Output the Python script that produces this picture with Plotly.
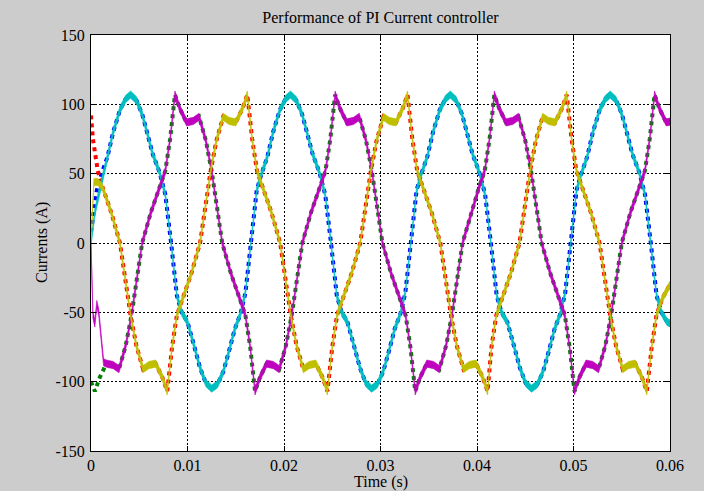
import plotly.graph_objects as go

# ---------------- data ----------------
# Phase A reference (red dotted) / measured (yellow)
t_ref_a = [0.0000, 0.0002, 0.0007, 0.0012, 0.0021, 0.0030, 0.0041, 0.0047, 0.0054, 0.0060, 0.0067, 0.0074, 0.0079,
           0.0084, 0.0089, 0.0095, 0.0104, 0.0113, 0.0124, 0.0130, 0.0137, 0.0143, 0.0150, 0.0157, 0.0162,
           0.0167, 0.0172, 0.0178, 0.0187, 0.0196, 0.0207, 0.0213, 0.0220, 0.0226, 0.0233, 0.0240, 0.0245,
           0.0250, 0.0255, 0.0261, 0.0270, 0.0279, 0.0290, 0.0296, 0.0303, 0.0309, 0.0316, 0.0323, 0.0328,
           0.0333, 0.0338, 0.0344, 0.0353, 0.0362, 0.0373, 0.0379, 0.0386, 0.0392, 0.0399, 0.0406, 0.0411,
           0.0415, 0.0420, 0.0426, 0.0435, 0.0444, 0.0455, 0.0461, 0.0468, 0.0474, 0.0481, 0.0488, 0.0493,
           0.0498, 0.0503, 0.0509, 0.0518, 0.0527, 0.0538, 0.0544, 0.0551, 0.0557, 0.0564, 0.0571, 0.0576,
           0.0581, 0.0586, 0.0592, 0.0600]
i_ref_a = [92, 75, 52, 40, 22, 0, -52, -74, -91, -88, -87, -97, -107,
           -75, -52, -40, -22, 0, 52, 74, 91, 88, 87, 97, 107,
           75, 52, 40, 22, 0, -52, -74, -91, -88, -87, -97, -107,
           -75, -52, -40, -22, 0, 52, 74, 91, 88, 87, 97, 107,
           75, 52, 40, 22, 0, -52, -74, -91, -88, -87, -97, -107,
           -75, -52, -40, -22, 0, 52, 74, 91, 88, 87, 97, 107,
           75, 52, 40, 22, 0, -52, -74, -91, -88, -87, -97, -107,
           -75, -52, -40, -30]

# Phase B reference (blue dotted) / measured (cyan)
t_ref_b = [0.0000, 0.0006, 0.0011, 0.0017, 0.0023, 0.0030, 0.0036, 0.0041, 0.0047, 0.0053, 0.0058, 0.0064, 0.0071, 0.0077,
           0.0083, 0.0089, 0.0094, 0.0100, 0.0106, 0.0113, 0.0119, 0.0125, 0.0131, 0.0137, 0.0143, 0.0149, 0.0155, 0.0160,
           0.01657, 0.01717, 0.01767, 0.01827, 0.01887, 0.01957, 0.02017, 0.02067, 0.02127, 0.02187, 0.02237, 0.02297,
           0.02367, 0.02427, 0.02487, 0.02547, 0.02597, 0.02657, 0.02717, 0.02787, 0.02847, 0.02907, 0.02967, 0.03027,
           0.03087, 0.03147, 0.03207, 0.03257,
           0.03314, 0.03374, 0.03424, 0.03484, 0.03544, 0.03614, 0.03674, 0.03724, 0.03784, 0.03844, 0.03894, 0.03954,
           0.04024, 0.04084, 0.04144, 0.04204, 0.04254, 0.04314, 0.04374, 0.04444, 0.04504, 0.04564, 0.04624, 0.04684,
           0.04744, 0.04804, 0.04864, 0.04914,
           0.04971, 0.05031, 0.05081, 0.05141, 0.05201, 0.05271, 0.05331, 0.05381, 0.05441, 0.05501, 0.05551, 0.05611,
           0.05681, 0.05741, 0.05801, 0.05861, 0.05911, 0.05971, 0.0600]
i_ref_b = [8, 38, 50, 62, 80, 96, 104, 107, 103, 93, 80, 64, 51, 35,
           0, -38, -50, -57, -72, -90, -101, -105, -102, -93, -78, -62, -51, -36,
           0, 38, 50, 62, 80, 96, 104, 107, 103, 93, 80, 64, 51, 35,
           0, -38, -50, -57, -72, -90, -101, -105, -102, -93, -78, -62, -51, -36,
           0, 38, 50, 62, 80, 96, 104, 107, 103, 93, 80, 64, 51, 35,
           0, -38, -50, -57, -72, -90, -101, -105, -102, -93, -78, -62, -51, -36,
           0, 38, 50, 62, 80, 96, 104, 107, 103, 93, 80, 64, 51, 35,
           0, -38, -50, -57, -58]

# Phase C reference (green dotted) / measured (magenta)
t_ref_c = [0.0000, 0.0004, 0.0009, 0.0016, 0.0023, 0.0029, 0.0036, 0.0042, 0.0053, 0.0062, 0.0071, 0.0077, 0.0082, 0.0087,
           0.0092, 0.0099, 0.0106, 0.0112, 0.0119, 0.0125, 0.0136, 0.0145, 0.0154, 0.0160, 0.0165, 0.0170,
           0.0175, 0.0182, 0.0189, 0.0195, 0.0202, 0.0208, 0.0219, 0.0228, 0.0237, 0.0243, 0.0248, 0.0253,
           0.0258, 0.0265, 0.0272, 0.0278, 0.0285, 0.0291, 0.0302, 0.0311, 0.0320, 0.0326, 0.0331, 0.0336,
           0.0341, 0.0348, 0.0355, 0.0361, 0.0368, 0.0374, 0.0385, 0.0394, 0.0402, 0.0408, 0.0413, 0.0418,
           0.0423, 0.0430, 0.0437, 0.0443, 0.0450, 0.0456, 0.0467, 0.0476, 0.0485, 0.0491, 0.0496, 0.0501,
           0.0506, 0.0513, 0.0520, 0.0526, 0.0533, 0.0539, 0.0550, 0.0559, 0.0568, 0.0574, 0.0579, 0.0584,
           0.0589, 0.0596, 0.0600]
i_ref_c = [-100, -107, -97, -87, -88, -91, -74, -52, 0, 22, 40, 52, 75, 107,
           97, 87, 88, 91, 74, 52, 0, -22, -40, -52, -75, -107,
           -97, -87, -88, -91, -74, -52, 0, 22, 40, 52, 75, 107,
           97, 87, 88, 91, 74, 52, 0, -22, -40, -52, -75, -107,
           -97, -87, -88, -91, -74, -52, 0, 22, 40, 52, 75, 107,
           97, 87, 88, 91, 74, 52, 0, -22, -40, -52, -75, -107,
           -97, -87, -88, -91, -74, -52, 0, 22, 40, 52, 75, 107,
           97, 87, 87.5]

# Measured currents: start-up transient, afterwards they track the references
t_meas_a_start = [0.0000, 0.0003, 0.0007, 0.0010]
i_meas_a_start = [0, 44, 44, 42]
t_meas_b_start = [0.0000, 0.0004, 0.0008, 0.0012]
i_meas_b_start = [0, 22, 36, 47]
t_meas_c_start = [0.0000, 0.0001, 0.0002, 0.0004, 0.0006, 0.0008, 0.0010, 0.0013]
i_meas_c_start = [0, -25, -52, -58, -44, -50, -66, -86]

x_tick_vals = [0, 0.01, 0.02, 0.03, 0.04, 0.05, 0.06]
x_tick_text = ["0", "0.01", "0.02", "0.03", "0.04", "0.05", "0.06"]
y_tick_vals = [-150, -100, -50, 0, 50, 100, 150]
y_tick_text = ["-150", "-100", "-50", "0", "50", "100", "150"]

# ---------------- styling ----------------
FONT = "Liberation Serif, Times New Roman, serif"
NOISE_HALF = 2.6  # visual thickness of the noisy measured traces (A)


def measured(t_start, v_start, t_ref, v_ref):
    cut = t_start[-1]
    t = list(t_start) + [tt for tt in t_ref if tt > cut]
    v = list(v_start) + [vv for tt, vv in zip(t_ref, v_ref) if tt > cut]
    return t, v


def band(t, v, h):
    xs = list(t) + list(t)[::-1]
    ys = [y + h for y in v] + [y - h for y in v[::-1]]
    return xs, ys


fig = go.Figure()

refs = [(t_ref_b, i_ref_b, "#0000FF"), (t_ref_c, i_ref_c, "#008000"), (t_ref_a, i_ref_a, "#FF0000")]
for t, v, col in refs:
    fig.add_trace(go.Scatter(x=t, y=v, mode="lines",
                             line=dict(color=col, width=4, dash="dot"),
                             hoverinfo="skip", showlegend=False))

meas = [(t_meas_b_start, i_meas_b_start, t_ref_b, i_ref_b, "#00BFBF"),
        (t_meas_c_start, i_meas_c_start, t_ref_c, i_ref_c, "#BF00BF"),
        (t_meas_a_start, i_meas_a_start, t_ref_a, i_ref_a, "#BFBF00")]
for ts, vs, tr, vr, col in meas:
    t, v = measured(ts, vs, tr, vr)
    bx, by = band(t, v, NOISE_HALF)
    fig.add_trace(go.Scatter(x=bx, y=by, mode="lines", fill="toself", fillcolor=col,
                             line=dict(color=col, width=0.6),
                             hoverinfo="skip", showlegend=False))

axis_common = dict(showline=True, linecolor="black", linewidth=1, mirror="ticks",
                   ticks="inside", ticklen=5, tickcolor="black", tickwidth=1,
                   showgrid=True, gridcolor="black", gridwidth=1, griddash="2px,2px",
                   zeroline=False, tickfont=dict(family=FONT, size=16, color="black"))

fig.update_xaxes(range=[0, 0.06], tickmode="array", tickvals=x_tick_vals, ticktext=x_tick_text,
                 ticklabelstandoff=0, **axis_common)
fig.update_yaxes(range=[-150, 150], tickmode="array", tickvals=y_tick_vals, ticktext=y_tick_text,
                 ticklabelstandoff=2, **axis_common)

fig.update_layout(
    width=704, height=491,
    margin=dict(l=91, r=34, t=35, b=40, pad=0),
    paper_bgcolor="#CCCCCC", plot_bgcolor="white",
    font=dict(family=FONT, size=16, color="black"),
    title=dict(text="Performance of PI Current controller", x=0.5, xref="paper",
               y=1 - 17 / 491, yref="container", yanchor="middle", xanchor="center",
               font=dict(family=FONT, size=16, color="black")),
    showlegend=False,
    annotations=[
        dict(text="Time (s)", xref="paper", yref="paper", x=0.5, y=-31 / 416,
             xanchor="center", yanchor="middle", showarrow=False,
             font=dict(family=FONT, size=16, color="black")),
        dict(text="Currents (A)", xref="paper", yref="paper", x=-49 / 579, y=0.5,
             xanchor="center", yanchor="middle", textangle=-90, showarrow=False,
             font=dict(family=FONT, size=16, color="black")),
    ],
)

fig.write_html("out.html", config={"displayModeBar": False},
               post_script="document.body.style.margin='0';document.body.style.background='#CCCCCC';")
